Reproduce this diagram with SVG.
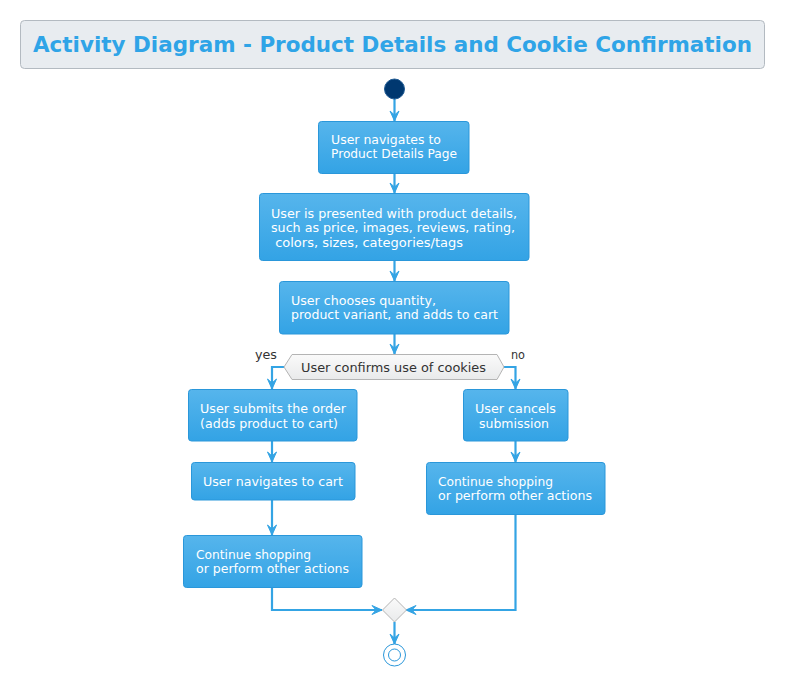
<svg xmlns="http://www.w3.org/2000/svg" width="787" height="676" viewBox="0 0 787 676">
<defs>
<linearGradient id="boxg" x1="0" y1="0" x2="0" y2="1">
<stop offset="0" stop-color="#56B5EC"/>
<stop offset="1" stop-color="#33A3E5"/>
</linearGradient>
<linearGradient id="decg" x1="0" y1="0" x2="0" y2="1">
<stop offset="0" stop-color="#FAFAFA"/>
<stop offset="1" stop-color="#E9EAEB"/>
</linearGradient>
<marker id="arr" markerUnits="userSpaceOnUse" markerWidth="14" markerHeight="14" viewBox="-12 -7 14 14" refX="0" refY="0" orient="auto">
<path d="M0,0 L-10,-4.5 L-6,0 L-10,4.5 Z" fill="#34A4E4" stroke="#34A4E4" stroke-width="1"/>
</marker>
<style>
.box{fill:url(#boxg);stroke:#2A97DA;stroke-width:1}
.t{font-family:"DejaVu Sans",sans-serif;font-size:13px;fill:#FFFFFF}
.d{font-family:"DejaVu Sans",sans-serif;font-size:13px;fill:#333333}
.e{fill:none;stroke:#34A4E4;stroke-width:2.2;marker-end:url(#arr)}
</style>
</defs>
<rect width="787" height="676" fill="#FFFFFF"/>
<g id="title">
<rect x="20.5" y="20.5" width="744" height="48" rx="4" fill="#E8ECF0" stroke="#B3BAC1" stroke-width="1"/>
<text x="33" y="52" textLength="719" lengthAdjust="spacingAndGlyphs" font-family="DejaVu Sans, sans-serif" font-size="21.5" font-weight="bold" fill="#2FA4E7">Activity Diagram - Product Details and Cookie Confirmation</text>
</g>
<g id="connectors">
<path class="e" d="M394.5,99 L394.5,121"/>
<path class="e" d="M394.5,174 L394.5,193"/>
<path class="e" d="M394.5,261 L394.5,281"/>
<path class="e" d="M394.5,334 L394.5,354"/>
<path class="e" d="M284,367 L272,367 L272,389"/>
<path class="e" d="M504,367 L515.5,367 L515.5,389"/>
<path class="e" d="M272,441 L272,462"/>
<path class="e" d="M272,500 L272,535"/>
<path class="e" d="M515.5,441 L515.5,462"/>
<path class="e" d="M272,587 L272,610 L382,610"/>
<path class="e" d="M515.5,514 L515.5,610 L406,610"/>
<path class="e" d="M394.5,622 L394.5,644"/>
</g>
<g id="start">
<circle cx="394.5" cy="89" r="10" fill="#003870" stroke="#1F5A93" stroke-width="1"/>
</g>
<g id="n1">
<rect class="box" x="318.5" y="121.5" width="150.5" height="52" rx="3"/>
<text class="t" x="331" y="143.5" textLength="110" lengthAdjust="spacingAndGlyphs">User navigates to</text>
<text class="t" x="331" y="158" textLength="126" lengthAdjust="spacingAndGlyphs">Product Details Page</text>
</g>
<g id="n2">
<rect class="box" x="259.5" y="193.5" width="269.5" height="67" rx="3"/>
<text class="t" x="271" y="217.5" textLength="246" lengthAdjust="spacingAndGlyphs">User is presented with product details,</text>
<text class="t" x="271" y="232" textLength="244" lengthAdjust="spacingAndGlyphs">such as price, images, reviews, rating,</text>
<text class="t" x="271" y="246.5" xml:space="preserve" textLength="192" lengthAdjust="spacingAndGlyphs"> colors, sizes, categories/tags</text>
</g>
<g id="n3">
<rect class="box" x="279.5" y="281.5" width="229.5" height="52.5" rx="3"/>
<text class="t" x="291" y="304.5" textLength="145" lengthAdjust="spacingAndGlyphs">User chooses quantity,</text>
<text class="t" x="291" y="319" textLength="207" lengthAdjust="spacingAndGlyphs">product variant, and adds to cart</text>
</g>
<g id="decision">
<polygon points="284,367 292,354.5 497,354.5 504,367 497,379.5 292,379.5" fill="url(#decg)" stroke="#B4B4B4" stroke-width="1"/>
<text class="d" x="301" y="371.5" textLength="185" lengthAdjust="spacingAndGlyphs">User confirms use of cookies</text>
<text class="d" x="255" y="359" textLength="22" lengthAdjust="spacingAndGlyphs">yes</text>
<text class="d" x="511" y="359" textLength="14" lengthAdjust="spacingAndGlyphs">no</text>
</g>
<g id="n4">
<rect class="box" x="188.5" y="389.5" width="168.5" height="51.5" rx="3"/>
<text class="t" x="200" y="413" textLength="146" lengthAdjust="spacingAndGlyphs">User submits the order</text>
<text class="t" x="200" y="427.5" textLength="138" lengthAdjust="spacingAndGlyphs">(adds product to cart)</text>
</g>
<g id="n5">
<rect class="box" x="463.5" y="389.5" width="104.5" height="51.5" rx="3"/>
<text class="t" x="475" y="413" textLength="81" lengthAdjust="spacingAndGlyphs">User cancels</text>
<text class="t" x="475" y="427.5" xml:space="preserve" textLength="74" lengthAdjust="spacingAndGlyphs"> submission</text>
</g>
<g id="n6">
<rect class="box" x="191.5" y="462.5" width="163.5" height="37.5" rx="3"/>
<text class="t" x="203" y="485.5" textLength="140" lengthAdjust="spacingAndGlyphs">User navigates to cart</text>
</g>
<g id="n7">
<rect class="box" x="426.5" y="462.5" width="178.5" height="52" rx="3"/>
<text class="t" x="438" y="485.5" textLength="115" lengthAdjust="spacingAndGlyphs">Continue shopping</text>
<text class="t" x="438" y="500" textLength="154" lengthAdjust="spacingAndGlyphs">or perform other actions</text>
</g>
<g id="n8">
<rect class="box" x="183.5" y="535.5" width="178.5" height="52" rx="3"/>
<text class="t" x="196" y="558.5" textLength="115" lengthAdjust="spacingAndGlyphs">Continue shopping</text>
<text class="t" x="196" y="573" textLength="153" lengthAdjust="spacingAndGlyphs">or perform other actions</text>
</g>
<g id="merge">
<polygon points="394.5,598 406.5,610 394.5,622 382.5,610" fill="url(#decg)" stroke="#B4B4B4" stroke-width="1"/>
</g>
<g id="end">
<circle cx="394.5" cy="655" r="11" fill="#FFFFFF" stroke="#2A97DA" stroke-width="1"/>
<circle cx="394.5" cy="655" r="6" fill="#FFFFFF" stroke="#2A97DA" stroke-width="1"/>
</g>
</svg>
